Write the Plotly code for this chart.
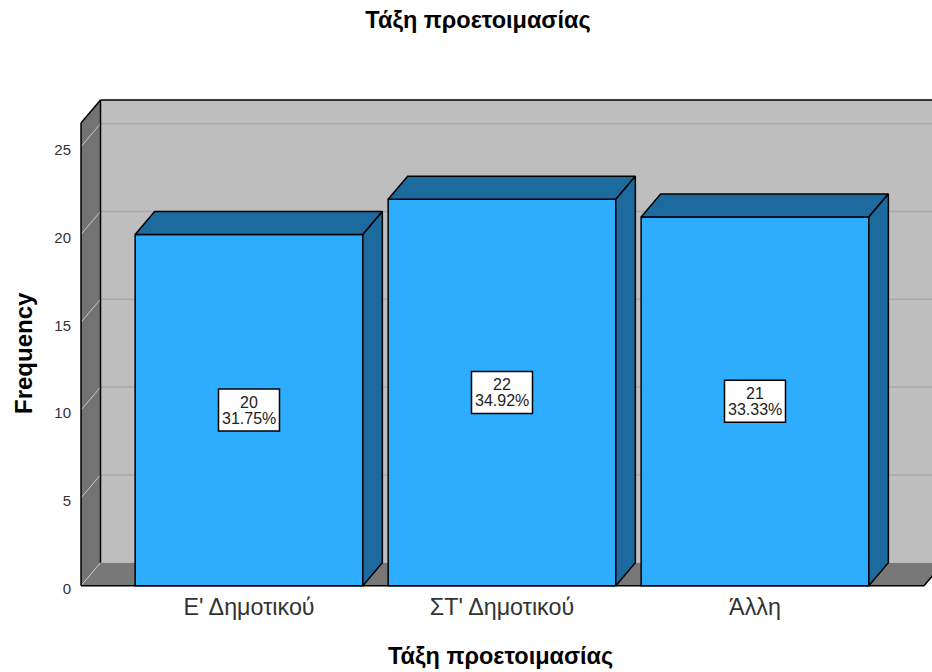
import plotly.graph_objects as go

categories = ["Ε' Δημοτικού", "ΣΤ' Δημοτικού", "Άλλη"]
counts = [20, 22, 21]
percents = ["31.75%", "34.92%", "33.33%"]
y_ticks = [0, 5, 10, 15, 20, 25]
title_text = "Τάξη προετοιμασίας"
y_title = "Frequency"

FONT = "Liberation Sans"
WALL = "#bebebe"
SIDE = "#737373"
FLOOR = "#787878"
BAR = "#2eacff"
BAR_DARK = "#1d6a9f"

# fake 3d depth, in axis units (253px per category, 17.56px per count)
DX = 19.5 / 253
DY = 23 / 17.56
BAR_W = 0.9
X0, X1 = -0.664, 2.668
Y1 = 26.35


def poly(pts):
    return "M " + " L ".join("{} {}".format(x, y) for x, y in pts) + " Z"


def face(pts, fill, line="black", width=1.5):
    return dict(type="path", path=poly(pts), xref="x", yref="y", layer="below",
                fillcolor=fill, line=dict(color=line, width=width))


def edge(x0, y0, x1, y1, color="black", width=1.5):
    return dict(type="line", x0=x0, y0=y0, x1=x1, y1=y1, xref="x", yref="y",
                layer="below", line=dict(color=color, width=width))


shapes = [
    face([(X0 + DX, DY), (X1 + DX, DY), (X1 + DX, Y1 + DY), (X0 + DX, Y1 + DY)], WALL, WALL, 0),
    face([(X0, 0), (X0 + DX, DY), (X0 + DX, Y1 + DY), (X0, Y1)], SIDE, SIDE, 0),
    face([(X0, 0), (X1, 0), (X1 + DX, DY), (X0 + DX, DY)], FLOOR, FLOOR, 0),
]
for t in y_ticks:
    shapes.append(edge(X0, t, X0 + DX, t + DY, "#c9c9c9", 1))
    if t > 0:
        shapes.append(edge(X0 + DX, t + DY, X1 + DX, t + DY, "#a9a9a9", 1.5))
shapes += [
    edge(X0, 0, X1, 0),
    edge(X1, 0, X1 + DX, DY),
    edge(X0, 0, X0, Y1),
    edge(X0, Y1, X0 + DX, Y1 + DY),
    edge(X0 + DX, DY, X0 + DX, Y1 + DY),
    edge(X0 + DX, Y1 + DY, X1 + DX, Y1 + DY),
]

positions = list(range(len(categories)))

fig = go.Figure()
fig.add_trace(go.Bar(x=positions, y=counts, width=BAR_W,
                     marker=dict(color=BAR, line=dict(color="black", width=1.5))))

annotations = []
for pos, n, pct in zip(positions, counts, percents):
    left, right = pos - BAR_W / 2, pos + BAR_W / 2
    top_face = [(left, n), (right, n), (right + DX, n + DY), (left + DX, n + DY), (left, n)]
    side_face = [(right, 0), (right + DX, DY), (right + DX, n + DY), (right, n), (right, 0)]
    for pts in (top_face, side_face):
        fig.add_trace(go.Scatter(x=[p[0] for p in pts], y=[p[1] for p in pts],
                                 mode="lines", fill="toself", fillcolor=BAR_DARK,
                                 line=dict(color="black", width=1.5), hoverinfo="skip"))
    # label box has tight line spacing, so box and two lines are separate
    shapes.append(dict(type="rect", xref="x", yref="y", layer="above",
                       xsizemode="pixel", ysizemode="pixel",
                       xanchor=pos, yanchor=n / 2,
                       x0=-30.5, x1=30.5, y0=-21, y1=21,
                       fillcolor="white", line=dict(color="black", width=1.5)))
    annotations.append(dict(x=pos, y=n / 2, xref="x", yref="y", text=str(n), showarrow=False,
                            yshift=8, font=dict(family=FONT, size=16, color="#222222")))
    annotations.append(dict(x=pos, y=n / 2, xref="x", yref="y", text=pct, showarrow=False,
                            yshift=-8, font=dict(family=FONT, size=16, color="#222222")))

# paper coords are relative to the plot area: x 78..932, y 98..590 px
annotations.append(dict(x=(500 - 78) / 854, y=(590 - 656) / 492, xref="paper", yref="paper",
                        xanchor="center", yanchor="middle",
                        text="<b>" + title_text + "</b>", showarrow=False,
                        font=dict(family=FONT, size=23.5, color="black")))
annotations.append(dict(x=(23 - 78) / 854, y=(590 - 353) / 492, xref="paper", yref="paper",
                        xanchor="center", yanchor="middle",
                        text="<b>" + y_title + "</b>", textangle=-90, showarrow=False,
                        font=dict(family=FONT, size=24, color="black")))

fig.update_layout(
    width=932, height=672,
    margin=dict(l=78, r=0, t=98, b=82, autoexpand=False),
    paper_bgcolor="white", plot_bgcolor="white",
    showlegend=False,
    title=dict(text="<b>" + title_text + "</b>", x=478 / 932, xanchor="center",
               y=1 - 20 / 672, yanchor="middle",
               font=dict(family=FONT, size=23.5, color="black")),
    xaxis=dict(range=[-0.6759, 2.6996], tickvals=positions, ticktext=categories,
               showgrid=False, zeroline=False, showline=False,
               ticks="", ticklabelstandoff=1,
               tickfont=dict(family=FONT, size=23.3, color="#333333")),
    yaxis=dict(range=[-0.245, 27.77], tickvals=y_ticks,
               showgrid=False, zeroline=False, showline=False,
               ticks="outside", ticklen=3, tickcolor="rgba(0,0,0,0)", ticklabelshift=3,
               tickfont=dict(family=FONT, size=15, color="#333333")),
    shapes=shapes,
    annotations=annotations,
)

# page default body margin would shift and clip the figure
fig.write_html("out.html", config={"displayModeBar": False},
               post_script="document.body.style.margin='0';")
